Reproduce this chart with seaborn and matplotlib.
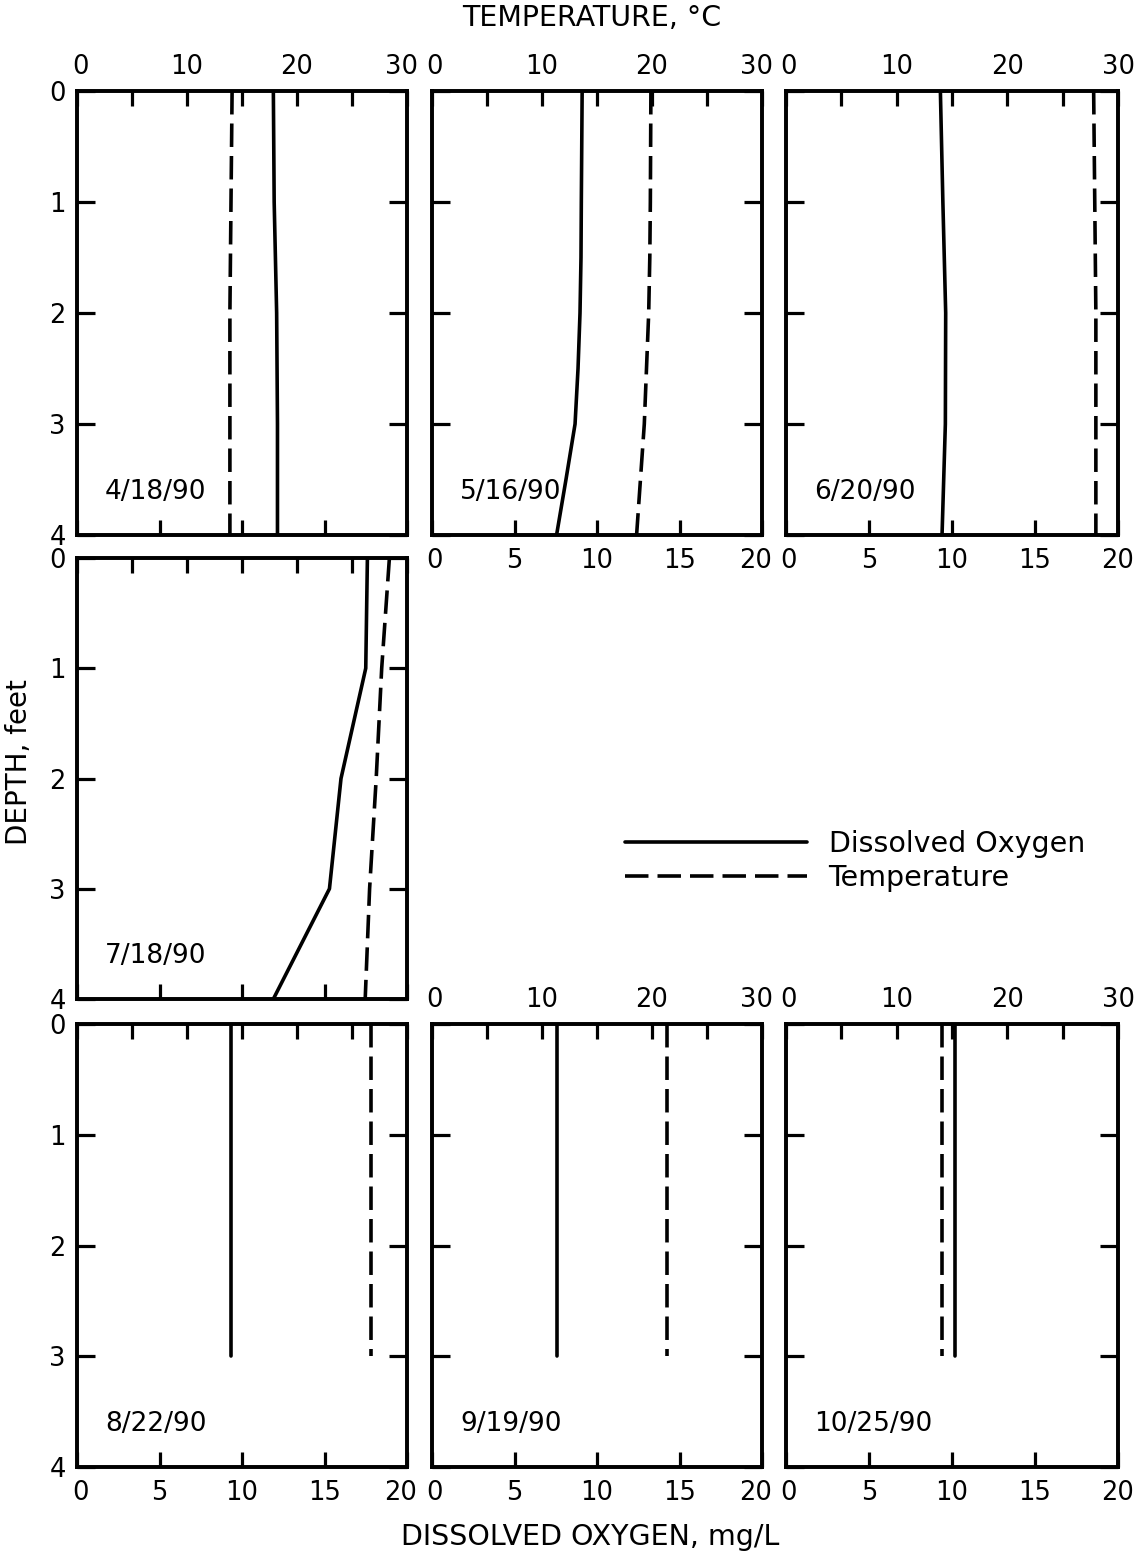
import matplotlib
matplotlib.use("Agg")
import matplotlib.pyplot as plt
import matplotlib.transforms as mtransforms
import seaborn as sns
from matplotlib.lines import Line2D

sns.set_style("white")
plt.rcParams['font.family'] = ['DejaVu Sans']
plt.rcParams['text.color'] = 'black'
plt.rcParams['xtick.color'] = 'black'
plt.rcParams['ytick.color'] = 'black'

# profile data
dates = ["4/18/90", "5/16/90", "6/20/90", "7/18/90", "8/22/90", "9/19/90", "10/25/90"]

depth_full = [0, 1, 2, 3, 4]
depth_0516 = [0, 1, 1.5, 2, 2.5, 3, 3.5, 4]
depth_short = [0, 3]

do_0418 = [11.9, 11.95, 12.1, 12.15, 12.15]
temp_0418 = [14.1, 14.0, 13.9, 13.9, 13.9]

do_0516 = [9.1, 9.05, 9.03, 8.97, 8.85, 8.67, 8.12, 7.55]
temp_0516 = [19.9, 19.85, 19.8, 19.7, 19.5, 19.3, 18.95, 18.6]

do_0620 = [9.3, 9.45, 9.62, 9.6, 9.4]
temp_0620 = [27.8, 27.9, 28.0, 28.0, 28.0]

do_0718 = [17.6, 17.5, 16.0, 15.3, 11.9]
temp_0718 = [28.4, 27.7, 27.2, 26.6, 26.2]

do_0822 = [9.33, 9.33]
temp_0822 = [26.7, 26.7]

do_0919 = [7.57, 7.57]
temp_0919 = [21.4, 21.4]

do_1025 = [10.2, 10.2]
temp_1025 = [14.1, 14.1]

do_ticks = [0, 5, 10, 15, 20]
temp_ticks = [0, 5, 10, 15, 20, 25, 30]
temp_ticklabels = ["0", "", "10", "", "20", "", "30"]
depth_ticks = [0, 1, 2, 3, 4]

W, H = 1142, 1556
fig = plt.figure(figsize=(W / 100, H / 100), dpi=100)

cols = [(77, 330), (432, 330), (786, 332)]
rows = [(91, 535), (558, 999), (1024, 1467)]

def make_ax(r, c):
    x0, w = cols[c]
    t, b = rows[r]
    return fig.add_axes([x0 / W, 1 - b / H, w / W, (b - t) / H])

LW = 2.6
DASH = (0, (6.5, 2.5))
TICKSIZE = 18.5

def nudge(label, px):
    off = mtransforms.ScaledTranslation(px / 100, 0, fig.dpi_scale_trans)
    label.set_transform(label.get_transform() + off)

def panel(ax, d_do, do, d_t, temp, date, left, bottom, top, last_col=False):
    sns.lineplot(x=do, y=d_do, ax=ax, color="black", lw=LW, sort=False, estimator=None)
    ax2 = ax.twiny()
    sns.lineplot(x=temp, y=d_t, ax=ax2, color="black", lw=LW, sort=False,
                 estimator=None, linestyle=DASH)
    ax.set_xlim(0, 20)
    ax2.set_xlim(0, 30)
    ax.set_ylim(4, 0)
    ax.set_xticks(do_ticks)
    ax.set_yticks(depth_ticks)
    ax2.set_xticks(temp_ticks)
    ax2.set_xticklabels(temp_ticklabels)
    ax.tick_params(axis="x", direction="in", length=11, width=2.3, bottom=True, top=False,
                   labelbottom=bottom, labelsize=TICKSIZE, pad=9)
    ax.tick_params(axis="y", direction="in", length=13, width=2.3, left=True, right=True,
                   labelleft=left, labelsize=TICKSIZE, pad=8)
    ax2.tick_params(axis="x", direction="in", length=11, width=2.3, top=True, bottom=False,
                    labeltop=top, labelsize=TICKSIZE, pad=8)
    for a in (ax, ax2):
        a.set_xlabel("")
        a.set_ylabel("")
        for s in a.spines.values():
            s.set_linewidth(2.6)
            s.set_color("black")
    # keep end labels of neighbouring panels apart, as in the original
    bt = ax.xaxis.get_major_ticks()
    tt = ax2.xaxis.get_major_ticks()
    nudge(bt[0].label1, 3)
    nudge(tt[0].label2, 3)
    if not last_col:
        nudge(bt[-1].label1, -6)
        nudge(tt[-1].label2, -6)
    ax.text(0.085, 0.097, date, transform=ax.transAxes, fontsize=19, ha="left", va="center")

panel(make_ax(0, 0), depth_full, do_0418, depth_full, temp_0418, dates[0], True, False, True)
panel(make_ax(0, 1), depth_0516, do_0516, depth_0516, temp_0516, dates[1], False, True, True)
panel(make_ax(0, 2), depth_full, do_0620, depth_full, temp_0620, dates[2], False, True, True, True)
panel(make_ax(1, 0), depth_full, do_0718, depth_full, temp_0718, dates[3], True, False, False)
panel(make_ax(2, 0), depth_short, do_0822, depth_short, temp_0822, dates[4], True, True, False)
panel(make_ax(2, 1), depth_short, do_0919, depth_short, temp_0919, dates[5], False, True, True)
panel(make_ax(2, 2), depth_short, do_1025, depth_short, temp_1025, dates[6], False, True, True, True)

fig.text(592 / W, 1 - 18 / H, "TEMPERATURE, °C", ha="center", va="center", fontsize=20.5)
fig.text(590 / W, 1 - 1537 / H, "DISSOLVED OXYGEN, mg/L", ha="center", va="center", fontsize=20.5)
fig.text(19 / W, 1 - 762 / H, "DEPTH, feet", ha="center", va="center", rotation=90, fontsize=20)

handles = [Line2D([], [], color="black", lw=LW),
           Line2D([], [], color="black", lw=LW, linestyle=DASH)]
fig.legend(handles, ["Dissolved Oxygen", "Temperature"], loc="center left",
           bbox_to_anchor=(625 / W, 1 - 861 / H), frameon=False, fontsize=20.5,
           handlelength=6.4, handletextpad=0.75, labelspacing=0.2,
           borderpad=0, borderaxespad=0)

fig.savefig("out.png", dpi=100, facecolor="white")
